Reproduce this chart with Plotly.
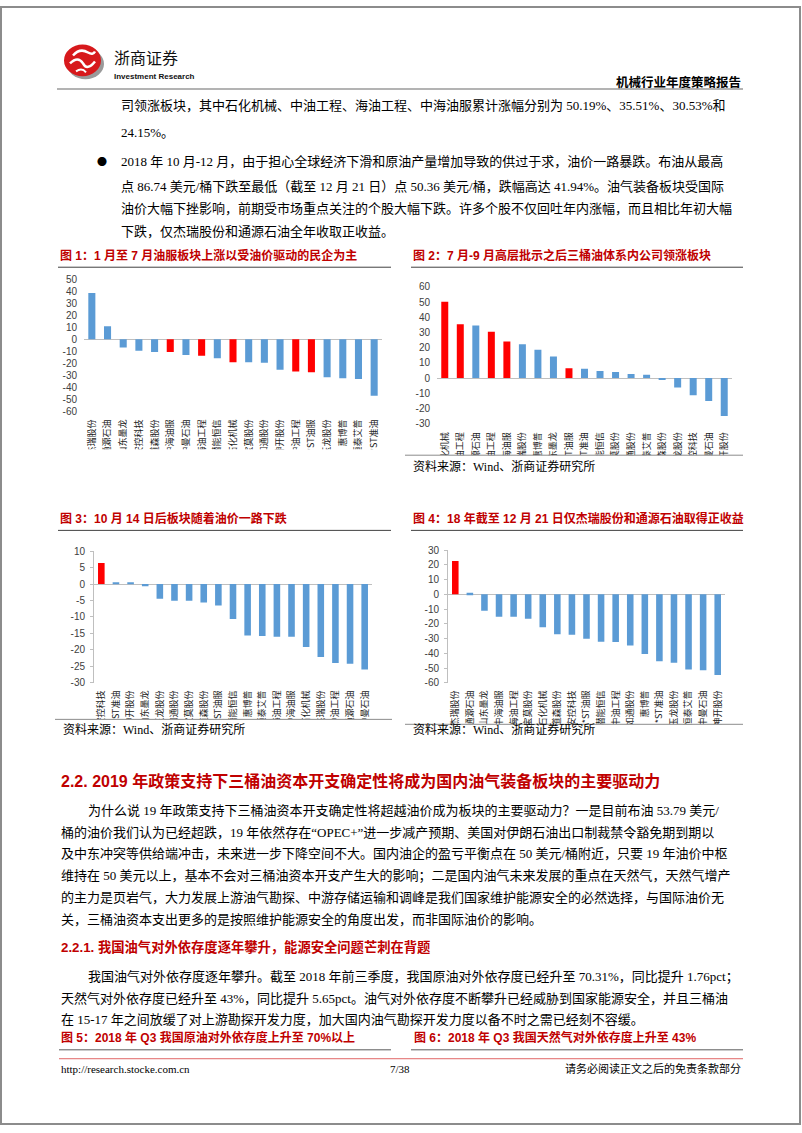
import plotly.graph_objects as go

W, H = 802, 1133

# ---------------- data ----------------
c1_names = ["杰瑞股份", "通源石油", "山东墨龙", "安控科技", "道森股份", "中海油服", "中曼石油", "海油工程",
            "潜能恒信", "石化机械", "宝莫股份", "如通股份", "神开股份", "中油工程", "*ST油服", "玉龙股份",
            "惠博普", "恒泰艾普", "*ST准油"]
c1_vals = [38.5, 10.8, -6.8, -9.5, -10.6, -10.6, -13.0, -13.6, -15.7, -19.0, -19.0, -19.5, -25.2, -26.6,
           -27.4, -31.4, -32.2, -32.8, -46.9]

c2_names = ["石化机械", "中油工程", "通源石油", "海油工程", "中海油服", "杰瑞股份", "惠博普", "山东墨龙",
            "*ST油服", "*ST准油", "潜能恒信", "宝莫股份", "如通股份", "恒泰艾普", "道森股份", "玉龙股份",
            "安控科技", "中曼石油", "神开股份"]
c2_vals = [50.19, 35.51, 34.6, 30.53, 24.15, 22.2, 18.7, 14.1, 6.5, 6.1, 4.6, 3.9, 2.6, 2.2, -1.1, -6.3,
           -11.3, -15.2, -25.0]

c3_names = ["安控科技", "*ST准油", "神开股份", "山东墨龙", "玉龙股份", "如通股份", "宝莫股份", "道森股份",
            "*ST油服", "潜能恒信", "惠博普", "恒泰艾普", "海油工程", "中海油服", "石化机械", "杰瑞股份",
            "中油工程", "通源石油", "中曼石油"]
c3_vals = [6.4, 0.5, 0.3, -0.7, -4.5, -5.1, -5.1, -5.6, -6.5, -10.6, -15.6, -15.8, -16.0, -16.0, -19.1,
           -22.2, -24.0, -24.2, -26.0]

c4_names = ["杰瑞股份", "通源石油", "山东墨龙", "中海油服", "海油工程", "宝莫股份", "石化机械", "道森股份",
            "安控科技", "*ST油服", "潜能恒信", "中油工程", "如通股份", "惠博普", "*ST准油", "玉龙股份",
            "恒泰艾普", "中曼石油", "神开股份"]
c4_vals = [22.6, 1.1, -11.2, -15.2, -15.2, -16.6, -22.4, -27.1, -27.5, -30.2, -32.2, -32.4, -34.7, -40.5,
           -45.4, -46.5, -51.0, -51.5, -54.8]

c1_red = ["中海油服", "海油工程", "石化机械", "中油工程", "*ST油服"]
c2_red = ["石化机械", "中油工程", "海油工程", "中海油服", "*ST油服"]
c3_red = ["安控科技"]
c4_red = ["杰瑞股份"]

titles = ["图 1：1 月至 7 月油服板块上涨以受油价驱动的民企为主",
          "图 2：7 月-9 月高层批示之后三桶油体系内公司领涨板块",
          "图 3：10 月 14 日后板块随着油价一路下跌",
          "图 4：18 年截至 12 月 21 日仅杰瑞股份和通源石油取得正收益"]
source_text = "资料来源：Wind、浙商证券研究所"

# ---------------- helpers ----------------
BLUE = "#5B9BD5"
RED = "#FF0000"
TRED = "#C00000"
SERIF = "Liberation Serif, Noto Sans CJK SC, serif"
SANS = "Liberation Sans, Noto Sans CJK SC, sans-serif"
CJK = "Noto Sans CJK SC, sans-serif"


def X(px):
    return px / W


def Y(py):
    return 1 - py / H


fig = go.Figure()
layout = {}
shapes = []
ann = []

charts = [
    dict(names=c1_names, vals=c1_vals, red=c1_red, xd=(84, 382), yd=(276, 410), rng=(-60, 50), dt=10,
         axis=False, sod=5),
    dict(names=c2_names, vals=c2_vals, red=c2_red, xd=(437, 732), yd=(284, 422), rng=(-30, 60), dt=10,
         axis=False, sod=6),
    dict(names=c3_names, vals=c3_vals, red=c3_red, xd=(94, 372), yd=(551, 684), rng=(-30, 10), dt=5,
         axis=True, sod=5),
    dict(names=c4_names, vals=c4_vals, red=c4_red, xd=(448, 725), yd=(550, 684), rng=(-60, 30), dt=10,
         axis=True, sod=5),
]

for i, c in enumerate(charts, start=1):
    sfx = "" if i == 1 else str(i)
    xa, ya = "x" + sfx, "y" + sfx
    colors = [RED if n in c["red"] else BLUE for n in c["names"]]
    fig.add_trace(go.Bar(x=c["names"], y=c["vals"], marker=dict(color=colors, line=dict(width=0)),
                         width=0.45, xaxis=xa, yaxis=ya, showlegend=False, hoverinfo="skip"))
    ticks = list(range(c["rng"][0], c["rng"][1] + 1, c["dt"]))
    layout["xaxis" + sfx] = dict(domain=[X(c["xd"][0]), X(c["xd"][1])], anchor=ya, type="category",
                                 tickangle=-90, tickfont=dict(size=9, family=CJK, color="#222"),
                                 showgrid=False, zeroline=False, showline=False, ticks="",
                                 ticklabelstandoff=c["sod"], fixedrange=True)
    layout["yaxis" + sfx] = dict(domain=[Y(c["yd"][1]), Y(c["yd"][0])], anchor=xa,
                                 range=[c["rng"][0], c["rng"][1]], tickvals=ticks,
                                 ticktext=[str(t) for t in ticks], showgrid=False,
                                 zeroline=True, zerolinecolor="#bfbfbf", zerolinewidth=1,
                                 showline=c["axis"], linecolor="#bfbfbf", linewidth=1,
                                 ticks="outside" if c["axis"] else "", ticklen=3, tickcolor="#bfbfbf",
                                 tickfont=dict(size=10, family="Liberation Sans, Arial", color="#404040"),
                                 ticklabelstandoff=3 if c["axis"] else 6, fixedrange=True)


def line(x0, y0, x1, y1, color, width=1, layer="above"):
    shapes.append(dict(type="line", xref="paper", yref="paper", x0=X(x0), y0=Y(y0), x1=X(x1), y1=Y(y1),
                       line=dict(color=color, width=width), layer=layer))


def rect(x0, y0, x1, y1, fill, lc=None, lw=0, layer="above"):
    shapes.append(dict(type="rect", xref="paper", yref="paper", x0=X(x0), y0=Y(y0), x1=X(x1), y1=Y(y1),
                       fillcolor=fill, line=dict(color=lc or fill, width=lw), layer=layer))


def text(x, y, s, size=13, color="#000", family=SERIF, anchor="left", bold=False):
    if bold:
        s = "<b>" + s + "</b>"
    ann.append(dict(xref="paper", yref="paper", x=X(x), y=Y(y), text=s, showarrow=False,
                    xanchor=anchor, yanchor="middle", font=dict(size=size, color=color, family=family)))


# clip the long rotated category labels like the original
rect(80, 448, 392, 470, "white")
rect(432, 454, 745, 480, "white")
rect(88, 721, 392, 745, "white")
rect(440, 726, 745, 745, "white")

# page frame
rect(1, 1, 800, 1130, "rgba(0,0,0,0)", lc="#8c8c8c", lw=2)

# header logo
shapes.append(dict(type="circle", xref="paper", yref="paper", x0=X(67), y0=Y(74), x1=X(104), y1=Y(43),
                   fillcolor="#9a9a9a", line=dict(width=0), layer="above"))
shapes.append(dict(type="circle", xref="paper", yref="paper", x0=X(64), y0=Y(71), x1=X(101), y1=Y(39),
                   fillcolor="#d7191c", line=dict(width=0), layer="above"))


def path(pts):
    out = []
    for cmd, coords in pts:
        vals = []
        for k in range(0, len(coords), 2):
            vals.append(f"{X(coords[k]):.5f},{Y(coords[k + 1]):.5f}")
        out.append(cmd + " " + " ".join(vals))
    return " ".join(out)


shapes.append(dict(type="path", xref="paper", yref="paper",
                   path=path([("M", (73, 50)), ("Q", (80, 42, 88, 47)), ("Q", (93, 50, 95, 46))]),
                   line=dict(color="white", width=2.5), layer="above"))
shapes.append(dict(type="path", xref="paper", yref="paper",
                   path=path([("M", (70, 58)), ("Q", (78, 50, 83, 58)), ("Q", (87, 66, 95, 56))]),
                   line=dict(color="white", width=2.5), layer="above"))
shapes.append(dict(type="path", xref="paper", yref="paper",
                   path=path([("M", (76, 66)), ("Q", (82, 62, 86, 67))]),
                   line=dict(color="white", width=2), layer="above"))

text(112, 53, "浙商证券", size=16, color="#111", family=SERIF)
text(112, 71, "Investment Research", size=8, color="#111", family="Liberation Sans Narrow, Liberation Sans",
     bold=True)
text(743, 76, "机械行业年度策略报告", size=12.5, color="#000", family=CJK, anchor="right", bold=True)
line(57, 84, 743, 84, "#9a9a9a", 1.5)

# top paragraphs
text(119, 101, "司领涨板块，其中石化机械、中油工程、海油工程、中海油服累计涨幅分别为 50.19%、35.51%、30.53%和")
text(119, 128, "24.15%。")
text(95, 157, "●", size=10, family=CJK)
text(119, 157, "2018 年 10 月-12 月，由于担心全球经济下滑和原油产量增加导致的供过于求，油价一路暴跌。布油从最高")
text(119, 182, "点 86.74 美元/桶下跌至最低（截至 12 月 21 日）点 50.36 美元/桶，跌幅高达 41.94%。油气装备板块受国际")
text(119, 205, "油价大幅下挫影响，前期受市场重点关注的个股大幅下跌。许多个股不仅回吐年内涨幅，而且相比年初大幅")
text(119, 228, "下跌，仅杰瑞股份和通源石油全年收取正收益。")

# chart titles and rules
TS = 12
text(58, 252, titles[0], size=TS, color=TRED, family=SANS, bold=True)
text(411, 252, titles[1], size=TS, color=TRED, family=SANS, bold=True)
line(58, 264, 391, 264, "#404040", 1)
line(411, 264, 743, 264, "#404040", 1)
text(58, 518, titles[2], size=TS, color=TRED, family=SANS, bold=True)
text(411, 518, titles[3], size=TS, color=TRED, family=SANS, bold=True)
line(58, 530, 391, 530, "#404040", 1)
line(411, 530, 743, 530, "#404040", 1)

# chart bottoms / sources
line(405, 454, 743, 454, "#8c8c8c", 1)
text(411, 465, source_text, size=12, family=SERIF)
line(55, 721, 392, 721, "#8c8c8c", 1)
line(405, 726, 743, 726, "#8c8c8c", 1)
text(61, 731, source_text, size=12, family=SERIF)
text(411, 731, source_text, size=12, family=SERIF)

# section 2.2
text(59, 783, "2.2. 2019 年政策支持下三桶油资本开支确定性将成为国内油气装备板块的主要驱动力", size=16,
     color=TRED, family=SANS, bold=True)
text(86, 813, "为什么说 19 年政策支持下三桶油资本开支确定性将超越油价成为板块的主要驱动力？一是目前布油 53.79 美元/")
text(59, 835, "桶的油价我们认为已经超跌，19 年依然存在“OPEC+”进一步减产预期、美国对伊朗石油出口制裁禁令豁免期到期以")
text(59, 857, "及中东冲突等供给端冲击，未来进一步下降空间不大。国内油企的盈亏平衡点在 50 美元/桶附近，只要 19 年油价中枢")
text(59, 879, "维持在 50 美元以上，基本不会对三桶油资本开支产生大的影响；二是国内油气未来发展的重点在天然气，天然气增产")
text(59, 901, "的主力是页岩气，大力发展上游油气勘探、中游存储运输和调峰是我们国家维护能源安全的必然选择，与国际油价无")
text(59, 923, "关，三桶油资本支出更多的是按照维护能源安全的角度出发，而非国际油价的影响。")
text(59, 951, "2.2.1. 我国油气对外依存度逐年攀升，能源安全问题芒刺在背题", size=13.3, color=TRED, family=SANS,
     bold=True)
text(86, 981, "我国油气对外依存度逐年攀升。截至 2018 年前三季度，我国原油对外依存度已经升至 70.31%，同比提升 1.76pct；")
text(59, 1003, "天然气对外依存度已经升至 43%，同比提升 5.65pct。油气对外依存度不断攀升已经威胁到国家能源安全，并且三桶油")
text(59, 1024, "在 15-17 年之间放缓了对上游勘探开发力度，加大国内油气勘探开发力度以备不时之需已经刻不容缓。")
text(59, 1043, "图 5：2018 年 Q3 我国原油对外依存度上升至 70%以上", size=TS, color=TRED, family=SANS, bold=True)
text(412, 1043, "图 6：2018 年 Q3 我国天然气对外依存度上升至 43%", size=TS, color=TRED, family=SANS, bold=True)
line(59, 1055, 391, 1055, "#595959", 1)
line(411, 1055, 743, 1055, "#595959", 1)
line(59, 1064, 743, 1064, "#e06666", 1)

# footer
text(59, 1074, "http://research.stocke.com.cn", size=11, family=SERIF)
text(400, 1074, "7/38", size=11, family=SERIF, anchor="center")
text(743, 1074, "请务必阅读正文之后的免责条款部分", size=11, family=SERIF, anchor="right")

fig.update_layout(
    width=W, height=H, margin=dict(l=0, r=0, t=0, b=0),
    paper_bgcolor="white", plot_bgcolor="rgba(0,0,0,0)",
    showlegend=False, bargap=0.55,
    shapes=shapes, annotations=ann,
    **layout,
)

fig.write_html("out.html", config={"displayModeBar": False},
               post_script="document.body.style.margin='0';document.body.style.overflow='hidden';")
